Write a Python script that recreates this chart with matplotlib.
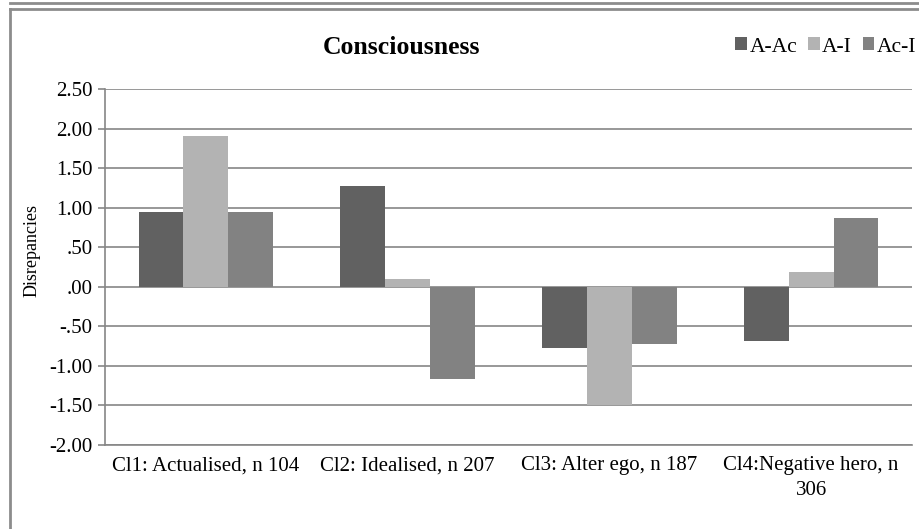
import numpy as np
import matplotlib.pyplot as plt
from matplotlib.lines import Line2D
from matplotlib.patches import Patch

# data
categories = ['Cl1: Actualised, n 104', 'Cl2: Idealised, n 207',
              'Cl3: Alter ego, n 187', 'Cl4:Negative hero, n\n306']
series_names = ['A-Ac', 'A-I', 'Ac-I']
a_ac = [0.95, 1.27, -0.77, -0.68]
a_i = [1.90, 0.10, -1.49, 0.19]
ac_i = [0.95, -1.17, -0.72, 0.87]
y_ticks = [2.5, 2.0, 1.5, 1.0, 0.5, 0.0, -0.5, -1.0, -1.5, -2.0]
y_labels = ['2.50', '2.00', '1.50', '1.00', '.50', '.00', '-.50', '-1.00', '-1.50', '-2.00']

colors = ['#616161', '#b3b3b3', '#828282']
plt.rcParams['font.family'] = ['Liberation Serif', 'DejaVu Serif']

W, H = 919, 529
fig = plt.figure(figsize=(W / 100, H / 100), dpi=100)
ax = fig.add_axes([105 / W, 1 - 445 / H, (912 - 105) / W, (445 - 89) / H])

x = np.arange(len(categories))
bw = 0.222
for i, vals in enumerate([a_ac, a_i, ac_i]):
    ax.bar(x + (i - 1) * bw, vals, width=bw, color=colors[i], zorder=3,
           edgecolor='none', label=series_names[i])

ax.set_xlim(-0.5, len(categories) - 0.5)
ax.set_ylim(-2.0, 2.5)
ax.set_yticks(y_ticks)
ax.set_yticklabels(y_labels, fontsize=15)
ax.set_xticks(x)
ax.set_xticklabels(categories, fontsize=15, linespacing=1.45, va='top')
ax.tick_params(axis='x', length=0, pad=8)
ax.tick_params(axis='y', length=5, width=1.2, color='#868686', pad=4)
ax.grid(axis='y', color='#868686', linewidth=1.2, zorder=0)
for s in ['top', 'right']:
    ax.spines[s].set_visible(False)
ax.spines['left'].set_color('#868686')
ax.spines['left'].set_linewidth(1.2)
ax.spines['bottom'].set_color('#868686')
ax.spines['bottom'].set_linewidth(1.2)
ax.set_ylabel('Disrepancies', fontsize=13)
ax.yaxis.set_label_coords(-64 / 807, 0.545)

fig.text(401 / W, 1 - 47 / H, 'Consciousness', fontsize=18.5, fontweight='bold',
         ha='center', va='center')

handles = [Patch(facecolor=c, edgecolor='none') for c in colors]
fig.legend(handles, series_names, loc='center right', bbox_to_anchor=(916 / W, 1 - 47 / H),
           ncol=3, frameon=False, fontsize=15.5, handlelength=0.55, handleheight=0.55,
           handletextpad=0.1, columnspacing=0.5, borderaxespad=0, borderpad=0)

# outer frame lines
gray = '#8c8c8c'
fig.add_artist(Line2D([10 / W, 1], [1 - 3 / H, 1 - 3 / H], color=gray, lw=2))
fig.add_artist(Line2D([10 / W, 1], [1 - 8.5 / H, 1 - 8.5 / H], color=gray, lw=2))
fig.add_artist(Line2D([10 / W, 10 / W], [0, 1 - 8.5 / H], color=gray, lw=2))

fig.savefig('out.png', dpi=100)
